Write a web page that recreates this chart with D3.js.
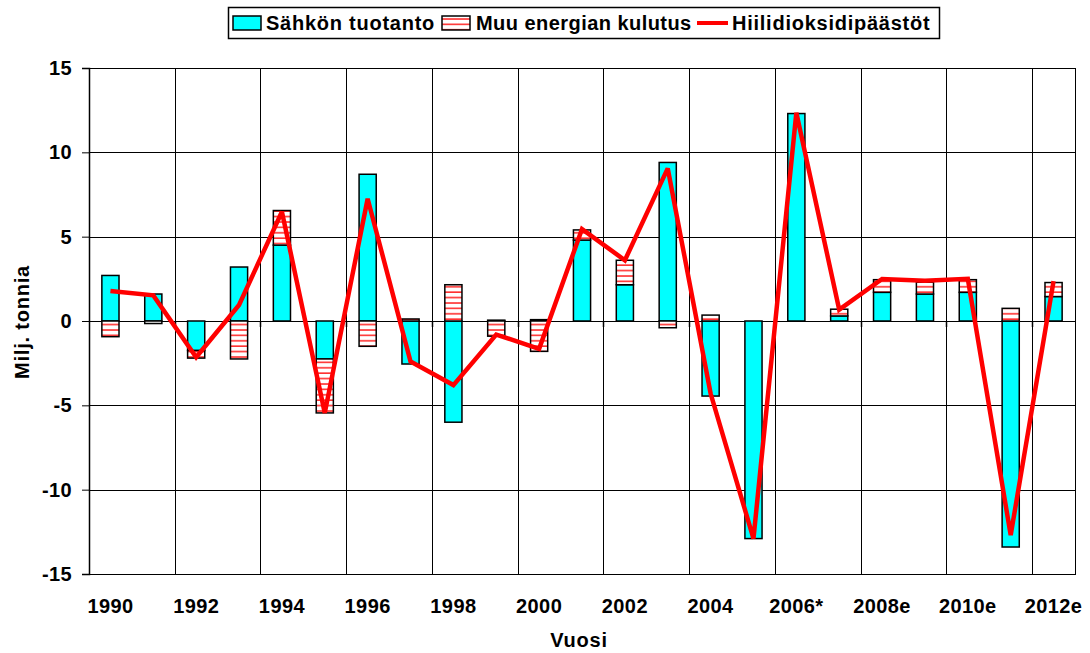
<!DOCTYPE html>
<html>
<head>
<meta charset="utf-8">
<script src="https://cdn.jsdelivr.net/npm/d3@7"></script>
<style>
  body { margin: 0; background: #fff; }
  text { font-family: "Liberation Sans", Arial, sans-serif; font-weight: bold; fill: #000; }
</style>
</head>
<body>
<div id="chart"></div>
<script>
// data
var years = ["1990", "1991", "1992", "1993", "1994", "1995", "1996", "1997", "1998", "1999",
  "2000", "2001", "2002", "2003", "2004", "2005", "2006*", "2007e", "2008e", "2009e",
  "2010e", "2011e", "2012e"];
var sahko = [2.7, 1.6, -1.75, 3.2, 4.5, -2.25, 8.7, -2.55, -6.0, 0.05, 0.08, 4.8, 2.15,
  9.4, -4.45, -12.9, 12.3, 0.3, 1.7, 1.6, 1.7, -13.4, 1.45];
var muu = [-0.93, -0.15, -0.45, -2.25, 2.05, -3.2, -1.5, 0.12, 2.15, -0.9, -1.8, 0.6, 1.45,
  -0.4, 0.35, 0, 0, 0.4, 0.75, 0.7, 0.75, 0.75, 0.83];
var co2 = [1.78, 1.52, -2.15, 0.95, 6.48, -5.45, 7.25, -2.4, -3.8, -0.8, -1.65, 5.45, 3.6,
  9.05, -4.3, -12.9, 12.35, 0.67, 2.49, 2.38, 2.5, -12.7, 2.37];
var yTicks = [-15, -10, -5, 0, 5, 10, 15];
var seriesNames = ["Sähkön tuotanto", "Muu energian kulutus", "Hiilidioksidipäästöt"];

var svgWidth = 1090;
var svgHeight = 653;
var margin = { top: 68, right: 15, bottom: 79, left: 89 };
var width = svgWidth - margin.left - margin.right;
var height = svgHeight - margin.top - margin.bottom;

var svg = d3.select("#chart")
  .append("svg")
  .attr("width", svgWidth)
  .attr("height", svgHeight);

// striped fill for "Muu energian kulutus"
var pattern = svg.append("defs")
  .append("pattern")
  .attr("id", "stripes")
  .attr("patternUnits", "userSpaceOnUse")
  .attr("width", 8)
  .attr("height", 5.4);
pattern.append("rect")
  .attr("width", 8).attr("height", 5.4).attr("fill", "#fff");
pattern.append("rect")
  .attr("y", 2).attr("width", 8).attr("height", 1.6).attr("fill", "#ff3030");

var chartGroup = svg.append("g")
  .attr("transform", `translate(${margin.left}, ${margin.top})`);

var table = years.map((y, i) => ({ year: y, sahko: sahko[i], muu: muu[i], co2: co2[i] }));

var xScale = d3.scaleBand()
  .domain(years)
  .range([0, width]);

var yScale = d3.scaleLinear()
  .domain([-15, 15])
  .range([height, 0]);

// horizontal gridlines
chartGroup.append("g")
  .selectAll("line")
  .data(yTicks)
  .enter()
  .append("line")
  .attr("x1", 0)
  .attr("x2", width)
  .attr("y1", d => Math.round(yScale(d)) + 0.5)
  .attr("y2", d => Math.round(yScale(d)) + 0.5)
  .attr("stroke", "#000")
  .attr("stroke-width", 1);

// vertical gridlines every second category
var vLines = years.filter((d, i) => i % 2 === 0 && i > 0);
chartGroup.append("g")
  .selectAll("line")
  .data(vLines)
  .enter()
  .append("line")
  .attr("x1", d => Math.round(xScale(d)) + 0.5)
  .attr("x2", d => Math.round(xScale(d)) + 0.5)
  .attr("y1", 0)
  .attr("y2", height)
  .attr("stroke", "#000")
  .attr("stroke-width", 1);

// small ticks under the zero line
chartGroup.append("g")
  .selectAll("line")
  .data(vLines)
  .enter()
  .append("line")
  .attr("x1", d => Math.round(xScale(d)) + 0.5)
  .attr("x2", d => Math.round(xScale(d)) + 0.5)
  .attr("y1", yScale(0))
  .attr("y2", yScale(0) + 6)
  .attr("stroke", "#000")
  .attr("stroke-width", 1.5);

// plot border
chartGroup.append("rect")
  .attr("x", 0.5)
  .attr("y", 0.5)
  .attr("width", width)
  .attr("height", height)
  .attr("fill", "none")
  .attr("stroke", "#000")
  .attr("stroke-width", 1);

// stacked bars, positives up and negatives down
var stack = d3.stack()
  .keys(["sahko", "muu"])
  .offset(d3.stackOffsetDiverging);
var stacked = stack(table);
var fills = { sahko: "#00ffff", muu: "url(#stripes)" };
var barW = xScale.bandwidth() * 0.4;

stacked.forEach(function (layer) {
  chartGroup.append("g")
    .selectAll("rect")
    .data(layer.filter(d => d[1] - d[0] !== 0))
    .enter()
    .append("rect")
    .attr("x", d => xScale(d.data.year) + (xScale.bandwidth() - barW) / 2)
    .attr("width", barW)
    .attr("y", d => yScale(d[1]))
    .attr("height", d => yScale(d[0]) - yScale(d[1]))
    .attr("fill", fills[layer.key])
    .attr("stroke", "#000")
    .attr("stroke-width", 1.5);
});

// CO2 line
var line = d3.line()
  .x(d => xScale(d.year) + xScale.bandwidth() / 2)
  .y(d => yScale(d.co2));

chartGroup.append("path")
  .datum(table)
  .attr("d", line)
  .attr("fill", "none")
  .attr("stroke", "#ff0000")
  .attr("stroke-width", 4.5)
  .attr("stroke-linejoin", "miter")
  .attr("stroke-miterlimit", 3);

// y axis
var leftAxis = d3.axisLeft(yScale)
  .tickValues(yTicks)
  .tickSize(7)
  .tickPadding(10)
  .tickFormat(d => String(d));
var yAxis = chartGroup.append("g").call(leftAxis);
yAxis.select(".domain").attr("stroke-width", 1.5);
yAxis.selectAll("text")
  .attr("font-size", 20)
  .style("letter-spacing", "0.4px")
  .style("font-family", "Liberation Sans, Arial, sans-serif");

// x labels every second year
var xLabels = years.filter((d, i) => i % 2 === 0);
chartGroup.append("g")
  .selectAll("text")
  .data(xLabels)
  .enter()
  .append("text")
  .attr("x", d => xScale(d) + xScale.bandwidth() / 2)
  .attr("y", height + 39)
  .attr("text-anchor", "middle")
  .attr("font-size", 20)
  .style("letter-spacing", "0.4px")
  .text(d => d);

// axis titles
svg.append("text")
  .attr("x", margin.left + width / 2 - 3)
  .attr("y", 647)
  .attr("text-anchor", "middle")
  .attr("font-size", 20)
  .style("letter-spacing", "0.8px")
  .text("Vuosi");

svg.append("text")
  .attr("transform", "rotate(-90)")
  .attr("x", -322)
  .attr("y", 29)
  .attr("text-anchor", "middle")
  .attr("font-size", 20)
  .style("letter-spacing", "0.8px")
  .text("Milj. tonnia");

// legend
var legend = svg.append("g");
legend.append("rect")
  .attr("x", 228.5).attr("y", 7.5)
  .attr("width", 711).attr("height", 31)
  .attr("fill", "#fff").attr("stroke", "#000").attr("stroke-width", 1.5);

var legendX = [233, 442, 697];
legend.append("rect")
  .attr("x", legendX[0]).attr("y", 16).attr("width", 28).attr("height", 14)
  .attr("fill", "#00ffff").attr("stroke", "#000").attr("stroke-width", 1.5);
legend.append("rect")
  .attr("x", legendX[1]).attr("y", 16).attr("width", 28).attr("height", 14)
  .attr("fill", "url(#stripes)").attr("stroke", "#000").attr("stroke-width", 1.5);
legend.append("line")
  .attr("x1", legendX[2]).attr("x2", legendX[2] + 31).attr("y1", 23).attr("y2", 23)
  .attr("stroke", "#ff0000").attr("stroke-width", 4);

legend.selectAll("text.lab")
  .data(seriesNames)
  .enter()
  .append("text")
  .attr("class", "lab")
  .attr("x", (d, i) => [266, 476, 732][i])
  .attr("y", 30)
  .attr("font-size", 20)
  .style("letter-spacing", (d, i) => [0.75, 0.45, 0.75][i] + "px")
  .text(d => d);
</script>
</body>
</html>
